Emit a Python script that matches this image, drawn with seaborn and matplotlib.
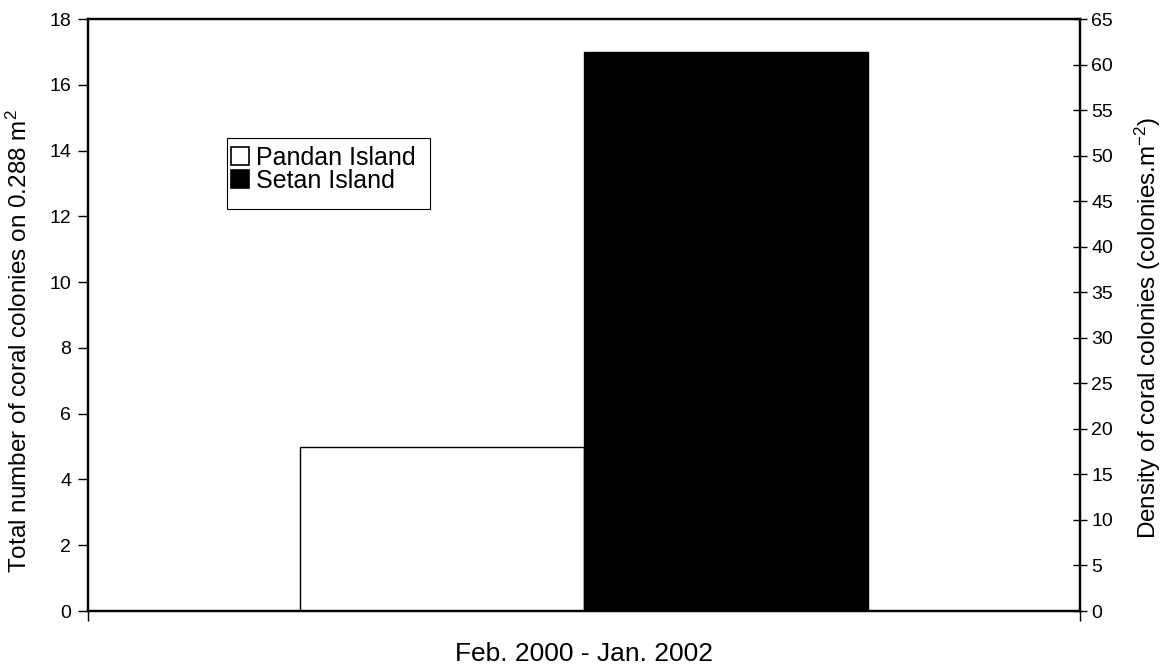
import matplotlib
matplotlib.use("Agg")
import matplotlib.pyplot as plt
import seaborn as sns
import pandas as pd
from matplotlib.patches import Patch, Rectangle
from matplotlib.ticker import FixedLocator

# Data
periods = ["Feb. 2000 - Jan. 2002"]
sites = ["Pandan Island", "Setan Island"]
counts = [5, 17]
left_ticks = [0, 2, 4, 6, 8, 10, 12, 14, 16, 18]
right_ticks = [0, 5, 10, 15, 20, 25, 30, 35, 40, 45, 50, 55, 60, 65]

sns.set_theme(style="white")
plt.rcParams['font.family'] = ['Liberation Sans', 'DejaVu Sans']
plt.rcParams['mathtext.default'] = 'regular'
for k in ['text.color', 'axes.labelcolor', 'xtick.color', 'ytick.color']:
    plt.rcParams[k] = 'black'

df = pd.DataFrame({"period": periods * len(sites), "site": sites, "count": counts})

fig = plt.figure(figsize=(11.64, 6.66), dpi=100)
ax = fig.add_axes([88/1164, 1 - 611/666, (1080-88)/1164, (611-19)/666])

sns.barplot(data=df, x="period", y="count", hue="site", palette=["white", "black"],
            edgecolor="black", linewidth=1.0, width=0.573, ax=ax, legend=False,
            saturation=1)

ax.set_xlim(-0.5, 0.5)
ax.set_ylim(left_ticks[0], left_ticks[-1])
ax.set_yticks(left_ticks)
ax.set_xticks([0])
ax.set_xticklabels(periods, fontsize=19)
ax.xaxis.set_minor_locator(FixedLocator([-0.5, 0.5]))
ax.tick_params(axis='x', which='major', length=0, pad=22)
ax.tick_params(axis='x', which='minor', length=7, width=1.0, color='black', direction='out', bottom=True)
ax.tick_params(axis='y', which='major', length=7, width=1.0, color='black', direction='out', left=True, labelsize=14, pad=5)
ax.set_xlabel("")
ax.set_ylabel("Total number of coral colonies on 0.288 m$^{2}$", fontsize=17.5)
ax.yaxis.set_label_coords((32 - 88) / 992, (611 - 341) / 592)

for s in ax.spines.values():
    s.set_color('black')
    s.set_linewidth(1.6)

ax2 = ax.twinx()
ax2.set_ylim(right_ticks[0], right_ticks[-1])
ax2.set_yticks(right_ticks)
ax2.tick_params(axis='y', length=10, width=1.0, color='black', direction='inout', right=True, labelsize=14, pad=3)
ax2.set_ylabel("Density of coral colonies (colonies.m$^{-2}$)", fontsize=17.5)
ax2.yaxis.set_label_coords((1133 - 88) / 992, (611 - 328) / 592)
for s in ax2.spines.values():
    s.set_color('black')
    s.set_linewidth(1.6)

# legend box
box = Rectangle((0.140, 0.679), 0.205, 0.120, transform=ax.transAxes,
                facecolor='white', edgecolor='black', linewidth=0.8, zorder=4)
ax.add_patch(box)

handles = [Patch(facecolor=c, edgecolor='black', linewidth=1.2) for c in ["white", "black"]]
leg = ax.legend(handles, sites, loc='upper left', bbox_to_anchor=(0.1415, 0.790),
                fontsize=18, frameon=False,
                handlelength=0.72, handleheight=0.72, handletextpad=0.3,
                borderpad=0.1, labelspacing=-0.05, borderaxespad=0)
leg.set_zorder(5)

fig.savefig("out.png", dpi=100)
